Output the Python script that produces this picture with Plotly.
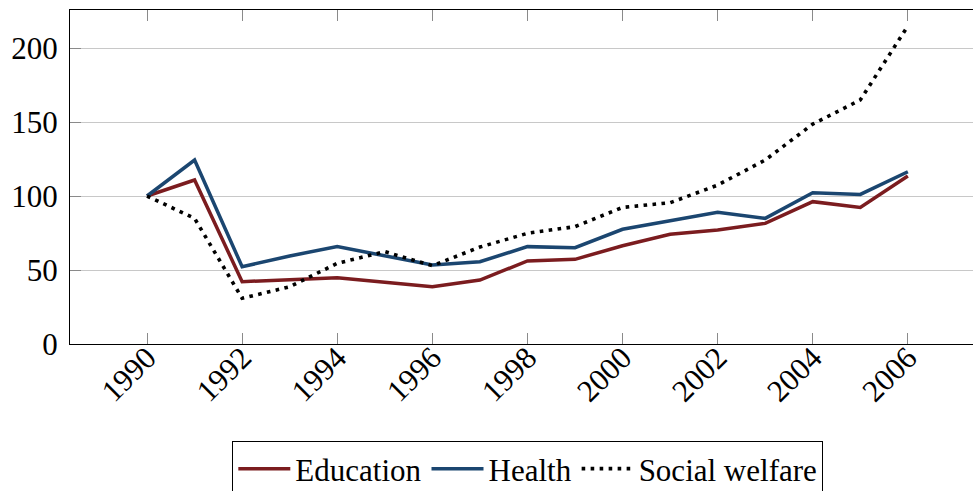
import plotly.graph_objects as go

# Spending indices (1990 = 100)
years = list(range(1990, 2007))
education = [100, 110.8, 42.1, 43.5, 44.8, 41.7, 38.7, 43.2, 56.1, 57.2,
             66.4, 74.1, 77.0, 81.5, 96.2, 92.3, 113.5]
health = [100, 124.3, 52.2, 59.5, 65.8, 59.5, 53.4, 55.6, 65.8, 65.1,
          77.5, 83.3, 89.0, 84.9, 102.2, 101.1, 116.4]
social_welfare = [100, 84.9, 30.9, 38.7, 54.5, 62.4, 52.9, 65.5, 74.8, 79.3,
                  92.3, 95.5, 107.4, 124.3, 148.6, 164.9, 214.9]

x_ticks = list(range(1990, 2007, 2))
y_ticks = [0, 50, 100, 150, 200]

FONT = "Liberation Serif"
FS = 31
RED = "#7b1c1f"
BLUE = "#1b4670"

fig = go.Figure()
fig.add_trace(go.Scatter(x=years, y=education, mode="lines", name="Education",
                         line=dict(color=RED, width=3.5)))
fig.add_trace(go.Scatter(x=years, y=health, mode="lines", name="Health",
                         line=dict(color=BLUE, width=3.5)))
fig.add_trace(go.Scatter(x=years, y=social_welfare, mode="lines", name="Social welfare",
                         line=dict(color="black", width=3.6, dash="3.6px,5.4px")))

fig.update_layout(
    width=973, height=491,
    margin=dict(l=70, r=0, t=10, b=147, autoexpand=False),
    paper_bgcolor="white", plot_bgcolor="white",
    font=dict(family=FONT, size=FS, color="black"),
    showlegend=True,
    legend=dict(orientation="h", x=0.507, xanchor="center", y=-0.2904, yanchor="top",
                bordercolor="black", borderwidth=1, bgcolor="white",
                font=dict(family=FONT, size=FS, color="black"),
                itemwidth=52, tracegroupgap=0),
)

fig.update_xaxes(
    range=[1988.38, 2007.37], automargin=False,
    tickvals=x_ticks, ticktext=[str(v) for v in x_ticks],
    tickangle=-45, ticklabelstandoff=-18,
    ticks="inside", ticklen=11, tickcolor="#8a8a8a", tickwidth=1,
    showline=True, linecolor="black", linewidth=1.2, mirror="ticks",
    showgrid=False, zeroline=False,
    tickfont=dict(family=FONT, size=FS, color="black"),
)
fig.update_yaxes(
    range=[0, 225.7], automargin=False,
    tickvals=y_ticks, ticktext=[str(v) for v in y_ticks],
    ticklabelstandoff=5,
    ticks="inside", ticklen=11, tickcolor="#8a8a8a", tickwidth=1,
    showline=True, linecolor="black", linewidth=1.2, mirror=True,
    showgrid=True, gridcolor="#c8c8c8", gridwidth=1, zeroline=False,
    tickfont=dict(family=FONT, size=FS, color="black"),
)

fig.write_html("out.html")
